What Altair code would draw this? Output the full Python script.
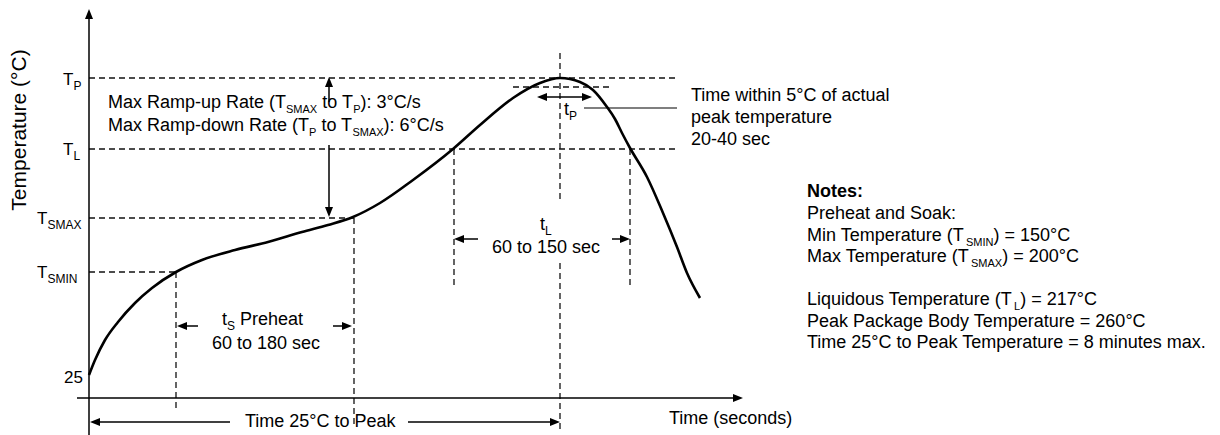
import re
import pandas as pd
import altair as alt

# ---------------- schematic data (diagram units: u = time from origin, v = level above time axis)
LEVELS = {"T_P": 320, "T_L": 249, "T_SMAX": 180, "T_SMIN": 126, "T_25": 23}
TIMES = {"ts_start": 87, "ts_end": 265, "tl_start": 365, "peak": 471, "tl_end": 541}

CURVE_T = [0, 6, 16, 29, 46, 63, 87, 113, 146, 179, 213, 239, 264, 291, 324, 364, 391,
           424, 451, 471, 491, 504, 518, 526, 533, 541, 558, 574, 588, 598, 611]
CURVE_V = [23, 38, 58, 76, 95, 110, 126, 138, 148, 156, 166, 173, 181, 195, 218, 249, 273,
           300, 315, 320, 316, 308, 291, 279, 265, 250, 221, 185, 151, 125, 100]

# dashed guide segments (u1, v1, u2, v2)
DASHED = [
    (0, 320, 588, 320), (0, 249, 588, 249), (0, 180, 265, 180), (0, 126, 87, 126),
    (424, 311, 524, 311),
    (87, 126, 87, -12), (265, 180, 265, -30), (365, 249, 365, 110), (541, 249, 541, 110),
    (471, 345, 471, 196), (471, 135, 471, -35),
]
# solid segments: axes and arrow shafts
SOLID = [
    (0, 381, 0, -37), (-12, 0, 646, 0),
    (240, 296, 240, 312), (240, 253, 240, 189),
    (452, 301, 499, 301),
    (369, 159, 389, 159), (523, 159, 537, 159),
    (92, 72, 109, 72), (244, 72, 259, 72),
    (5, -24, 141, -24), (319, -24, 467, -24),
]
LEADER = [(495, 290, 588, 290)]
# arrow heads (tip u, tip v, angle)
HEADS = [
    (0, 389, 270), (654, 0, 0),
    (240, 321, 270), (240, 181, 90),
    (448, 301, 180), (503, 301, 0),
    (365, 159, 180), (541, 159, 0),
    (88, 72, 180), (263, 72, 0),
    (1, -24, 180), (471, -24, 0),
]

# text: (rich text, u_left, v_baseline, size, sub size)
TEXTS = [
    ("T_{P}", -26, 313, 17, 12),
    ("T_{L}", -26, 243, 17, 12),
    ("T_{SMAX}", -52, 174, 17, 12),
    ("T_{SMIN}", -52, 120, 17, 12),
    ("25", -25, 15, 17, 12),
    ("Max Ramp-up Rate (T_{SMAX} to T_{P}): 3°C/s", 19, 290, 18, 11),
    ("Max Ramp-down Rate (T_{P} to T_{SMAX}): 6°C/s", 19, 267, 18, 11),
    ("Time within 5°C of actual", 602, 297, 18, 11),
    ("peak temperature", 602, 275, 18, 11),
    ("20-40 sec", 602, 253, 18, 11),
    ("t_{P}", 475, 283, 18, 12),
    ("t_{L}", 451, 168, 18, 12),
    ("t_{S} Preheat", 133, 73, 18, 12),
    ("Time 25°C to Peak", 156, -29, 18, 11),
    ("Time (seconds)", 580, -26, 18, 11),
    ("Preheat and Soak:", 718, 179, 18, 11),
    ("Min Temperature (T_{SMIN}) = 150°C", 718, 157, 18, 11),
    ("Max Temperature (T_{SMAX}) = 200°C", 718, 136, 18, 11),
    ("Liquidous Temperature (T_{L}) = 217°C", 718, 93, 18, 11),
    ("Peak Package Body Temperature = 260°C", 718, 71, 18, 11),
    ("Time 25°C to Peak Temperature = 8 minutes max.", 718, 50, 18, 11),
]
CENTERED = [("60 to 150 sec", 457, 145, 18), ("60 to 180 sec", 177, 49, 18)]
BOLD = [("Notes:", 718, 201, 18)]
Y_TITLE = [("Temperature (°C)", -69, 268, 21)]

# ---------------- text layout helpers (Arial / Liberation Sans advance widths)
W = {" ": 278, "(": 333, ")": 333, "-": 333, ".": 278, "/": 278, ":": 278, "=": 584,
     "°": 400, "A": 667, "B": 667, "C": 722, "D": 722, "E": 667, "F": 611, "G": 778,
     "H": 722, "I": 278, "K": 667, "L": 556, "M": 833, "N": 722, "O": 778, "P": 667,
     "R": 722, "S": 667, "T": 611, "X": 667, "a": 556, "b": 556, "c": 500, "d": 556,
     "e": 556, "f": 278, "g": 556, "h": 556, "i": 222, "j": 222, "k": 500, "l": 222,
     "m": 833, "n": 556, "o": 556, "p": 556, "q": 556, "r": 333, "s": 500, "t": 278,
     "u": 556, "v": 500, "w": 722, "x": 500, "y": 500, "z": 500}


def tw(t, size):
    return sum(W.get(c, 556) for c in t) * size / 1000.0


def runs(spec, u0, v0, fs, sfs, drop=5):
    rows = []
    u = u0
    for p in re.split(r"(_\{[^}]*\})", spec):
        if not p:
            continue
        if p.startswith("_{"):
            t, size, v = p[2:-1], sfs, v0 - drop
        else:
            t, size, v = p, fs, v0
        lead = len(t) - len(t.lstrip(" "))
        if t.strip():
            rows.append(dict(u=u + tw(" " * lead, size), v=v, text=t.strip(), fs=size))
        u += tw(t, size)
    return rows


text_rows = []
for spec, u0, v0, fs, sfs in TEXTS:
    text_rows += runs(spec, u0, v0, fs, sfs)
for t, uc, v0, fs in CENTERED:
    text_rows.append(dict(u=uc - tw(t, fs) / 2, v=v0, text=t, fs=fs))

text_df = pd.DataFrame(text_rows)
bold_df = pd.DataFrame([dict(u=u, v=v, text=t, fs=fs) for t, u, v, fs in BOLD])
title_df = pd.DataFrame([dict(u=u, v=v, text=t, fs=fs) for t, u, v, fs in Y_TITLE])
curve_df = pd.DataFrame({"u": CURVE_T, "v": CURVE_V})
dash_df = pd.DataFrame(DASHED, columns=["u", "v", "u2", "v2"])
solid_df = pd.DataFrame(SOLID, columns=["u", "v", "u2", "v2"])
lead_df = pd.DataFrame(LEADER, columns=["u", "v", "u2", "v2"])
head_df = pd.DataFrame(HEADS, columns=["u", "v", "ang"])

# ---------------- chart
xs = alt.Scale(domain=[-81, 1123], nice=False, zero=False)
ys = alt.Scale(domain=[-37, 390], nice=False, zero=False)
X = alt.X("u:Q", scale=xs, axis=None)
Y = alt.Y("v:Q", scale=ys, axis=None)
FONT = "Liberation Sans"

dashed = alt.Chart(dash_df).mark_rule(color="#111", strokeWidth=1.3, strokeDash=[6, 4]).encode(
    x=X, y=Y, x2="u2:Q", y2="v2:Q")
solid = alt.Chart(solid_df).mark_rule(color="black", strokeWidth=1.5).encode(
    x=X, y=Y, x2="u2:Q", y2="v2:Q")
leader = alt.Chart(lead_df).mark_rule(color="#555", strokeWidth=1.5).encode(
    x=X, y=Y, x2="u2:Q", y2="v2:Q")
curve = alt.Chart(curve_df).mark_line(color="black", strokeWidth=2.6, interpolate="monotone").encode(
    x=X, y=Y)
heads = alt.Chart(head_df).mark_point(
    shape="M0,0 L-2,-0.8 L-2,0.8 Z", filled=True, size=100, color="black", opacity=1, strokeWidth=0
).encode(x=X, y=Y, angle=alt.Angle("ang:Q", scale=None))
texts = alt.Chart(text_df).mark_text(align="left", baseline="alphabetic", font=FONT, color="black").encode(
    x=X, y=Y, text="text:N", size=alt.Size("fs:Q", scale=None, legend=None))
bold = alt.Chart(bold_df).mark_text(align="left", baseline="alphabetic", font=FONT, fontWeight="bold",
                                    color="black").encode(
    x=X, y=Y, text="text:N", size=alt.Size("fs:Q", scale=None, legend=None))
title = alt.Chart(title_df).mark_text(align="center", baseline="middle", font=FONT, angle=270,
                                      color="black").encode(
    x=X, y=Y, text="text:N", size=alt.Size("fs:Q", scale=None, legend=None))

chart = alt.layer(dashed, leader, solid, curve, heads, texts, bold, title).properties(
    width=1204, height=427, padding=0, autosize=alt.AutoSizeParams(type="none"),
    background="white",
).configure_view(strokeWidth=0)

chart.save("out.html", embed_options={"renderer": "svg", "actions": False})
